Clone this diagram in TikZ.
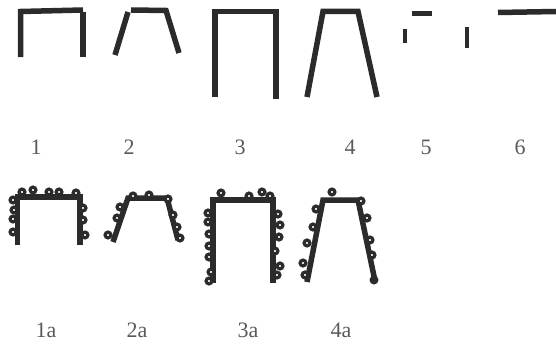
\documentclass[tikz,border=0pt]{standalone}
\usepackage{fontspec}
\setmainfont{Liberation Serif}
\begin{document}
\begin{tikzpicture}[x=1pt,y=-1pt,
  bar/.style={draw=ink,line width=5.5pt,line cap=butt,line join=miter},
  thin/.style={draw=ink,line width=4.5pt},
  bead/.style={draw=ink,line width=3.2pt,fill=white},
  lab/.style={text=labgray,font=\fontsize{22}{22}\selectfont,inner sep=0pt}]
\definecolor{ink}{HTML}{2B2B2B}
\definecolor{labgray}{HTML}{5A5A5A}
\useasboundingbox[fill=white] (0,0) rectangle (556,345);
% ---- row 1 ----
\draw[bar] (20.5,57) -- (20.5,11.5) -- (83,10);
\draw[bar] (83,12) -- (83,57);
\draw[bar] (115,55) -- (128,12);
\draw[bar] (131,10) -- (166,10.5) -- (179,53);
\draw[bar] (215,97) -- (215,11.5) -- (276,11.5) -- (276,99);
\draw[bar] (307,97) -- (323,11.5) -- (358,11.5) -- (377,97);
\draw[thin] (412,13.5) -- (432,13.5);
\draw[thin] (405,29) -- (405,43);
\draw[thin] (467,27) -- (467,48);
\draw[bar] (498,12.5) -- (556,11.5);
\node[lab] (l1) at (36,147) {1};
\node[lab] (l2) at (129,147) {2};
\node[lab] (l3) at (240,147) {3};
\node[lab] (l4) at (350,147) {4};
\node[lab] (l5) at (426,147) {5};
\node[lab] (l6) at (520,147) {6};
% ---- row 2 ----
\draw[bar] (17.5,245) -- (17.5,197) -- (80,197) -- (80,245);
\foreach \p in {(22,192),(33,190),(49,192),(59,192),(76,193),(13,200),(14,210),(13,219),(13,232),(83,208),(83,220),(85,235)}
  \draw[bead] \p circle (2.9);
\draw[bar] (113,242) -- (128,198) -- (167,198) -- (178,240);
\foreach \p in {(108,235),(117,218),(120,207),(133,196),(149,195),(168,199),(173,215),(177,227),(180,238)}
  \draw[bead] \p circle (2.9);
\draw[bar] (213,283) -- (213,200) -- (273,200) -- (273,283);
\foreach \p in {(221,193),(249,196),(262,192),(270,196),(208,213),(208,222),(209,234),(209,246),(209,257),(211,272),(209,281),(278,214),(280,225),(279,237),(275,251),(280,266),(277,275)}
  \draw[bead] \p circle (2.9);
\draw[bar] (307,282) -- (323,200) -- (358,200) -- (375,281);
\foreach \p in {(332,192),(361,201),(316,209),(313,227),(307,243),(303,263),(305,275),(367,218),(370,240),(372,255)}
  \draw[bead] \p circle (2.9);
\fill[ink] (374,280) circle (4.5);
\node[lab] (l1a) at (46,330) {1a};
\node[lab] (l2a) at (137,330) {2a};
\node[lab] (l3a) at (248,330) {3a};
\node[lab] (l4a) at (341,330) {4a};
\end{tikzpicture}
\end{document}
